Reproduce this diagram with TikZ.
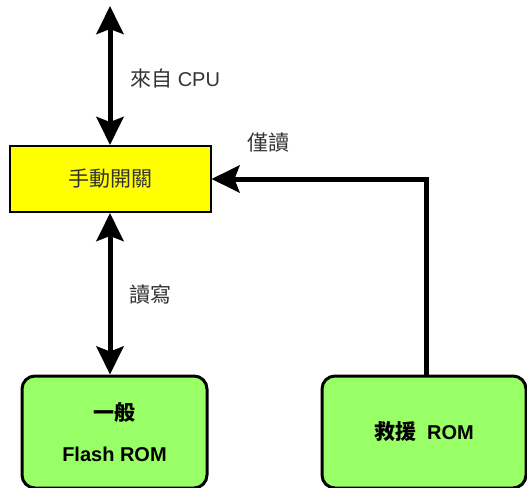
\documentclass[tikz,border=0pt]{standalone}
\usepackage{fontspec}
\setmainfont{Liberation Sans}
\newfontfamily\cjk{Noto Sans CJK TC}
\usetikzlibrary{arrows.meta}
\definecolor{swyellow}{HTML}{FFFF00}
\definecolor{romgreen}{HTML}{99FF66}
\definecolor{labelgray}{HTML}{333333}
\tikzset{
  switchbox/.style={draw=black, line width=2pt, fill=swyellow, minimum width=201pt, minimum height=66pt, inner sep=0pt, text=labelgray},
  rombox/.style={draw=black, line width=3pt, fill=romgreen, rounded corners=13pt, inner sep=0pt, align=center, font=\fontsize{20}{24}\selectfont\bfseries},
  bus/.style={line width=5pt, black, {Stealth[length=28pt,width=27pt,inset=5pt]}-{Stealth[length=28pt,width=27pt,inset=5pt]}},
  oneway/.style={line width=5pt, black, line join=miter, -{Stealth[length=28pt,width=27pt,inset=5pt]}},
  lbl/.style={anchor=west, inner sep=0pt, text=labelgray}
}
\begin{document}
\begin{tikzpicture}[x=1pt, y=-1pt, font=\fontsize{20}{24}\selectfont]
\useasboundingbox (0,0) rectangle (527,487);
\clip (0,0) rectangle (527,487);
\node[switchbox] (sw) at (110,179) {\cjk\fontsize{21}{24}\selectfont 手動開關};
\node[rombox, minimum width=185pt, minimum height=112pt] (flash) at (114.5,432)
  {{\cjk\fontsize{21}{24}\selectfont\bfseries 一般}\\[17pt]Flash ROM};
\node[rombox, minimum width=204pt, minimum height=112pt] (rescue) at (424,432)
  {{\cjk\fontsize{21}{24}\selectfont\bfseries 救援}\ \ ROM};
\coordinate (cpu) at (110,6);
\draw[bus] (cpu) -- (sw.north);
\draw[bus] (sw.south) -- (sw.south |- flash.north);
\draw[oneway] ([xshift=2pt]rescue.north) |- (sw.east);
\node[lbl] (lcpu) at (130,79) {{\cjk\fontsize{21}{24}\selectfont 來自} CPU};
\node[lbl] (lro) at (247,143) {\cjk\fontsize{21}{24}\selectfont 僅讀};
\node[lbl] (lrw) at (129,294) {\cjk\fontsize{21}{24}\selectfont 讀寫};
\end{tikzpicture}
\end{document}
